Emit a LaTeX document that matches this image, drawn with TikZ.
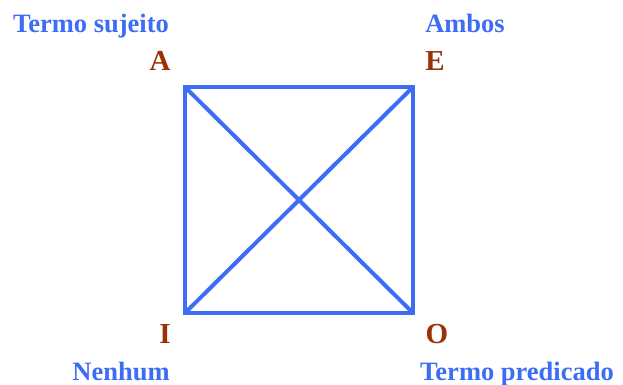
\documentclass[tikz,border=0pt]{standalone}
\usepackage{fontspec}
\setmainfont{Liberation Serif}
\usepackage{xcolor}
\usetikzlibrary{positioning}
\definecolor{squareBlue}{HTML}{3D6CF5}
\definecolor{vertexBrown}{HTML}{9A3208}

\begin{document}
\begin{tikzpicture}[x=1pt,y=-1pt]
      \tikzset{vertex/.style={text=vertexBrown,font=\fontsize{29}{32}\selectfont\bfseries,anchor=base,inner sep=0pt}, caption/.style={text=squareBlue,font=\fontsize{26.5}{29}\selectfont\bfseries,anchor=base,inner sep=0pt}, side/.style={draw=squareBlue,line width=4pt,line cap=round,line join=miter}}
      \useasboundingbox (0,0) rectangle (623,385);
      \coordinate (pa) at (185,87);
      \coordinate (pe) at (413,87);
      \coordinate (pi) at (185,313);
      \coordinate (po) at (413,313);
      \draw[side] (pa) -- (pe) -- (po) -- (pi) -- cycle;
      \draw[side] (pa) -- (po);
      \draw[side] (pi) -- (pe);
      \node[vertex] (a) at (160,71) {A};
      \node[vertex] (e) at (435,71) {E};
      \node[vertex] (i) at (165,343) {I};
      \node[vertex] (o) at (437,343) {O};
      \node[caption] (sujeito) at (91,33) {Termo sujeito};
      \node[caption] (ambos) at (465,33) {Ambos};
      \node[caption] (nenhum) at (121,380) {Nenhum};
      \node[caption] (predicado) at (517,380) {Termo predicado};
    \end{tikzpicture}
\end{document}
